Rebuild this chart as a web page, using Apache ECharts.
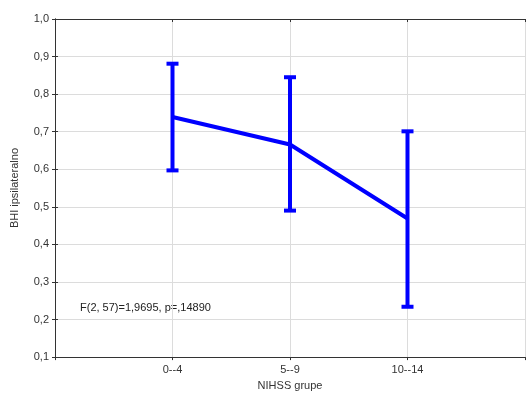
<!DOCTYPE html>
<html>
<head>
<meta charset="utf-8">
<script src="https://cdn.jsdelivr.net/npm/echarts@6/dist/echarts.min.js"></script>
<style>
  html, body { margin: 0; padding: 0; background: #fff; }
  #chart { width: 528px; height: 396px; }
</style>
</head>
<body>
<div id="chart"></div>
<script>
// groups on the x axis (placed at 1, 2, 3)
var groups = ['0--4', '5--9', '10--14'];
var means = [0.739, 0.666, 0.469];
var lows = [0.597, 0.490, 0.234];
var highs = [0.881, 0.845, 0.701];
var yTicks = [0.1, 0.2, 0.3, 0.4, 0.5, 0.6, 0.7, 0.8, 0.9, 1.0];
var note = 'F(2, 57)=1,9695, p=,14890';

var font = 'Liberation Sans, Arial, sans-serif';
var chart = echarts.init(document.getElementById('chart'));

var lineData = [];
var barData = [];
for (var i = 0; i < groups.length; i++) {
  lineData.push([i + 1, means[i]]);
  barData.push([i + 1, lows[i], highs[i]]);
}

function fmtComma(v) {
  return v.toFixed(1).replace('.', ',');
}

var option = {
  animation: false,
  backgroundColor: '#fff',
  grid: { left: 55, right: 1, top: 19, bottom: 38 },
  xAxis: [
    {
      type: 'value',
      min: 0, max: 4, interval: 1,
      position: 'bottom',
      name: 'NIHSS grupe',
      nameLocation: 'middle',
      nameGap: 18,
      nameTextStyle: { fontFamily: font, fontSize: 11, color: '#333' },
      axisLine: { show: true, lineStyle: { color: '#333', width: 1 } },
      axisTick: { show: true, length: 3, lineStyle: { color: '#333' } },
      axisLabel: {
        fontFamily: font, fontSize: 11, color: '#333', margin: 7,
        formatter: function (v) { return groups[v - 1] || ''; }
      },
      splitLine: { show: true, lineStyle: { color: '#dcdcdc', width: 1 } }
    },
    {
      type: 'value',
      min: 0, max: 4, interval: 1,
      position: 'top',
      axisLine: { show: true, lineStyle: { color: '#333', width: 1 } },
      axisTick: { show: true, inside: true, length: 3, lineStyle: { color: '#333' } },
      axisLabel: { show: false },
      splitLine: { show: false }
    }
  ],
  yAxis: [
    {
      type: 'value',
      min: 0.1, max: 1.0, interval: 0.1,
      position: 'left',
      name: 'BHI ipsilateralno',
      nameLocation: 'middle',
      nameGap: 35,
      nameTextStyle: { fontFamily: font, fontSize: 11, color: '#333' },
      axisLine: { show: true, lineStyle: { color: '#333', width: 1 } },
      axisTick: { show: true, length: 3, lineStyle: { color: '#333' } },
      axisLabel: {
        fontFamily: font, fontSize: 11, color: '#333', margin: 6,
        formatter: function (v) { return fmtComma(v); }
      },
      splitLine: { show: true, lineStyle: { color: '#dcdcdc', width: 1 } }
    },
    {
      type: 'value',
      min: 0.1, max: 1.0, interval: 0.1,
      position: 'right',
      axisLine: { show: true, lineStyle: { color: '#333', width: 1 } },
      axisTick: { show: true, length: 3, lineStyle: { color: '#333' } },
      axisLabel: { show: false },
      splitLine: { show: false }
    }
  ],
  graphic: [
    {
      type: 'text',
      left: 80,
      top: 302,
      style: { text: note, font: '11px ' + font, fill: '#222' }
    }
  ],
  series: [
    {
      type: 'line',
      data: lineData,
      symbol: 'none',
      lineStyle: { color: '#0000ff', width: 4 },
      z: 3
    },
    {
      type: 'custom',
      data: barData,
      z: 4,
      renderItem: function (params, api) {
        var x = api.value(0);
        var lo = api.coord([x, api.value(1)]);
        var hi = api.coord([x, api.value(2)]);
        var hw = 6;
        var st = { stroke: '#0000ff', lineWidth: 4, fill: null };
        return {
          type: 'group',
          children: [
            { type: 'line', shape: { x1: lo[0], y1: lo[1], x2: hi[0], y2: hi[1] }, style: st },
            { type: 'line', shape: { x1: lo[0] - hw, y1: lo[1], x2: lo[0] + hw, y2: lo[1] }, style: st },
            { type: 'line', shape: { x1: hi[0] - hw, y1: hi[1], x2: hi[0] + hw, y2: hi[1] }, style: st }
          ]
        };
      }
    }
  ]
};

chart.setOption(option);
</script>
</body>
</html>
